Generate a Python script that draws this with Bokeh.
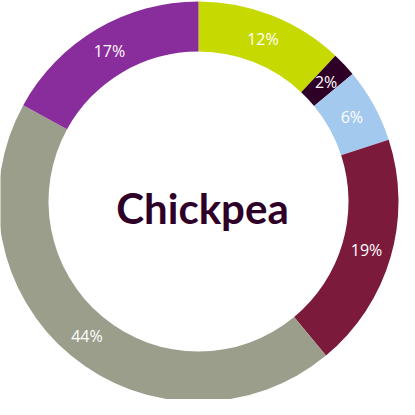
import numpy as np
from bokeh.plotting import figure
from bokeh.models import ColumnDataSource, Range1d
from bokeh.core.properties import value
from bokeh.embed import file_html
from bokeh.resources import INLINE

# Data
categories = ["A", "B", "C", "D", "E", "F"]
shares = [12, 2, 6, 19, 44, 17]
labels = ["12%", "2%", "6%", "19%", "44%", "17%"]
colors = ["#C6D900", "#2E0028", "#A3C9EE", "#7B1A3A", "#9A9E8B", "#8A2D9C"]
title_text = "Chickpea"

W = H = 399
cx, cy = 198, 198
r_out, r_in = 200, 150

vals = np.array(shares, dtype=float)
frac = vals / vals.sum()
cum_end = np.cumsum(frac)
cum_start = cum_end - frac
start_angle = np.pi / 2 - 2 * np.pi * cum_start
end_angle = np.pi / 2 - 2 * np.pi * cum_end
mid_angle = (start_angle + end_angle) / 2
r_mid = (r_out + r_in) / 2

src = ColumnDataSource(dict(
    cat=categories,
    start=start_angle,
    end=end_angle,
    color=colors,
    lx=cx + r_mid * np.cos(mid_angle),
    ly=cy + r_mid * np.sin(mid_angle),
    label=labels,
))

p = figure(width=W, height=H, output_backend="svg", toolbar_location=None,
           x_range=Range1d(0, W), y_range=Range1d(0, H),
           x_axis_location=None, y_axis_location=None, min_border=0,
           background_fill_color="white", border_fill_color="white")
p.outline_line_color = None
p.grid.visible = False

p.annular_wedge(x=cx, y=cy, inner_radius=r_in, outer_radius=r_out,
                start_angle="start", end_angle="end", direction="clock",
                fill_color="color", line_color=None, source=src)

p.text(x="lx", y="ly", text="label", source=src, text_color="white",
       text_font=value("Open Sans"), text_font_size="16px",
       text_align="center", text_baseline="middle")

p.text(x=[cx + 4], y=[cy - 6], text=[title_text], text_color="#2E0028",
       text_font=value("Lato"), text_font_style="bold", text_font_size="42px",
       text_align="center", text_baseline="alphabetic")

open("out.html", "w").write(file_html(p, INLINE))
